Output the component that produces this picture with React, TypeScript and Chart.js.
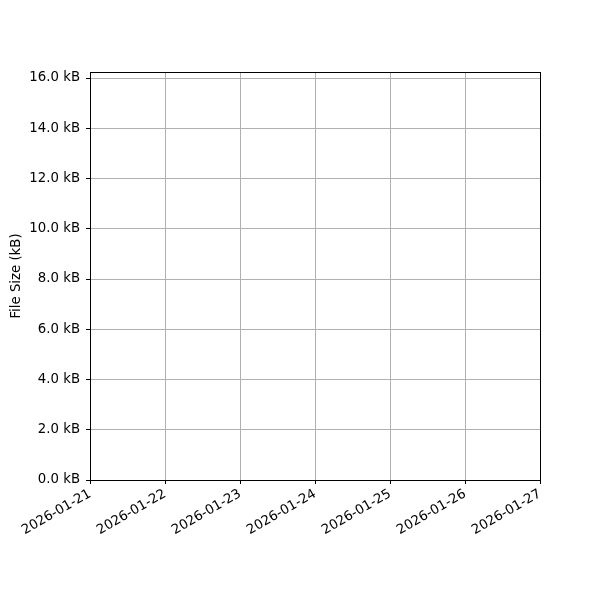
import { useEffect, useRef } from 'react';
import { Chart, registerables } from 'chart.js';

Chart.register(...registerables);

// dates on the x axis (one tick per day)
const dates = [
  '2026-01-21',
  '2026-01-22',
  '2026-01-23',
  '2026-01-24',
  '2026-01-25',
  '2026-01-26',
  '2026-01-27',
];
// no points were recorded in this window
const fileSizes: (number | null)[] = [];
const yMin = 0;
const yMax = 16.24;
const yStep = 2;

const FONT = 'DejaVu Sans';
const FONT_SIZE = 13.3;

// draws the top and right spines like matplotlib
const frame = {
  id: 'frame',
  afterDraw: (chart: Chart) => {
    const { ctx, chartArea } = chart;
    ctx.save();
    ctx.strokeStyle = '#000';
    ctx.lineWidth = 1;
    ctx.strokeRect(
      Math.round(chartArea.left) + 0.5,
      Math.round(chartArea.top) + 0.5,
      Math.round(chartArea.right - chartArea.left),
      Math.round(chartArea.bottom - chartArea.top)
    );
    ctx.restore();
  },
};

const App = () => {
  const canvasRef = useRef<HTMLCanvasElement | null>(null);

  useEffect(() => {
    document.body.style.margin = '0';
    if (!canvasRef.current) return;
    const chart = new Chart(canvasRef.current, {
      type: 'line',
      data: {
        labels: dates,
        datasets: [
          {
            label: 'File Size',
            data: fileSizes,
            borderColor: '#1f77b4',
            pointRadius: 0,
          },
        ],
      },
      options: {
        animation: false,
        responsive: false,
        devicePixelRatio: 1,
        layout: { padding: { top: 72, right: 60, left: 9, bottom: 0 } },
        plugins: {
          legend: { display: false },
          tooltip: { enabled: false },
        },
        scales: {
          x: {
            type: 'category',
            offset: false,
            grid: {
              color: '#b0b0b0',
              lineWidth: 1,
              tickColor: '#000',
              tickLength: 4,
            },
            border: { color: '#000', width: 1 },
            ticks: {
              autoSkip: false,
              maxRotation: 30,
              minRotation: 30,
              color: '#000',
              padding: 2,
              font: { family: FONT, size: FONT_SIZE },
            },
            afterFit: (scale: any) => {
              scale.height = 120;
            },
          },
          y: {
            min: yMin,
            max: yMax,
            grid: {
              color: '#b0b0b0',
              lineWidth: 1,
              tickColor: '#000',
              tickLength: 4,
            },
            border: { color: '#000', width: 1 },
            title: {
              display: true,
              text: 'File Size (kB)',
              color: '#000',
              padding: 0,
              font: { family: FONT, size: FONT_SIZE },
            },
            ticks: {
              stepSize: yStep,
              includeBounds: false,
              color: '#000',
              padding: 6,
              font: { family: FONT, size: FONT_SIZE },
              callback: (v: any) => Number(v).toFixed(1) + ' kB',
            },
            afterFit: (scale: any) => {
              scale.width = 81;
            },
          },
        },
      },
      plugins: [frame],
    });
    return () => chart.destroy();
  }, []);

  return (
    <div style={{ width: 600, height: 600 }}>
      <canvas ref={canvasRef} width={600} height={600} />
    </div>
  );
};

export default App;
